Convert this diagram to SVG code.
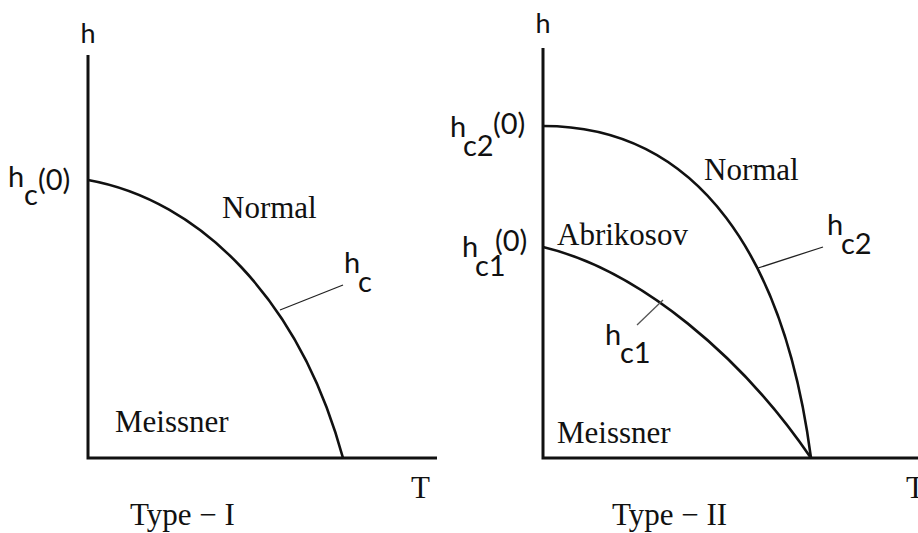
<svg xmlns="http://www.w3.org/2000/svg" width="918" height="533" viewBox="0 0 918 533">
<style>
.ax{stroke:#111;stroke-width:3;fill:none}
.cv{stroke:#111;stroke-width:2.6;fill:none}
.ld{stroke:#222;stroke-width:1.3;fill:none}
.ldg{stroke:#555;stroke-width:1.3;fill:none}
.sr{font-family:"Liberation Serif","Times New Roman",serif;font-size:31px;fill:#111}
.ss{font-family:Lato,"DejaVu Sans",sans-serif;font-size:29px;fill:#111}
.sa{font-family:Lato,"DejaVu Sans",sans-serif;font-size:27px;fill:#111}
</style>
<rect width="918" height="533" fill="#fff"/>
<g id="connectors">
<path class="ax" d="M88,55 V458 H437"/>
<path class="cv" d="M88,180 C200,200 300,300 343,458"/>
<line class="ld" x1="280" y1="310" x2="343" y2="285"/>
<path class="ax" d="M543,48 V458 H918"/>
<path class="cv" d="M543,126 C700,126 785,260 811,458"/>
<path class="cv" d="M543,247 C640,270 743,358 811,458"/>
<line class="ld" x1="758" y1="268" x2="823" y2="247"/>
<line class="ldg" x1="637" y1="325" x2="663" y2="300"/>
</g>
<g id="left-axis-h"><text class="sa" x="88" y="43" text-anchor="middle">h</text></g>
<g id="left-axis-T"><text class="sr" x="411" y="498">T</text></g>
<g id="hc0"><text class="ss" x="8" y="187">h</text><text class="ss" x="24" y="205">c</text><text class="ss" x="38" y="190">(0)</text></g>
<g id="left-normal"><text class="sr" x="222" y="218">Normal</text></g>
<g id="left-hc"><text class="ss" x="344" y="273">h</text><text class="ss" x="358" y="292">c</text></g>
<g id="left-meissner"><text class="sr" x="115" y="432">Meissner</text></g>
<g id="type1"><text class="sr" x="130" y="525">Type − I</text></g>
<g id="right-axis-h"><text class="sa" x="543" y="33" text-anchor="middle">h</text></g>
<g id="right-axis-T"><text class="sr" x="906" y="498">T</text></g>
<g id="hc20"><text class="ss" x="450" y="137">h</text><text class="ss" x="463" y="156">c2</text><text class="ss" x="493" y="134">(0)</text></g>
<g id="hc10"><text class="ss" x="462" y="257">h</text><text class="ss" x="475" y="276">c1</text><text class="ss" x="495" y="251">(0)</text></g>
<g id="right-normal"><text class="sr" x="704" y="180">Normal</text></g>
<g id="abrikosov"><text class="sr" x="557" y="245">Abrikosov</text></g>
<g id="right-hc2"><text class="ss" x="827" y="235">h</text><text class="ss" x="841" y="254">c2</text></g>
<g id="right-hc1"><text class="ss" x="605" y="345">h</text><text class="ss" x="620" y="363">c1</text></g>
<g id="right-meissner"><text class="sr" x="557" y="443">Meissner</text></g>
<g id="type2"><text class="sr" x="612" y="525">Type − II</text></g>
</svg>
